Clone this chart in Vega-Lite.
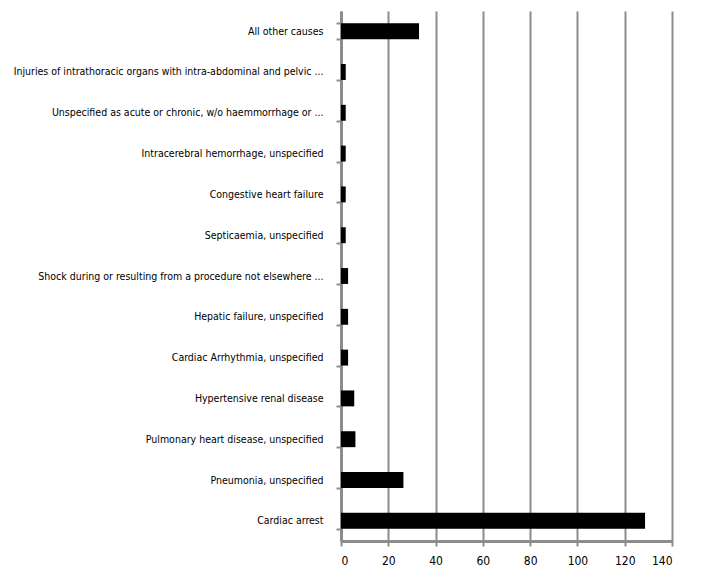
{
  "$schema": "https://vega.github.io/schema/vega-lite/v6.json",
  "autosize": {"type": "none"},
  "padding": {"left": 341, "top": 11, "right": 33, "bottom": 41},
  "width": 331,
  "height": 530,
  "background": "white",
  "config": {
    "view": {"stroke": null},
    "font": "DejaVu Sans Condensed, Liberation Sans Narrow, Roboto, sans-serif"
  },
  "data": {
    "values": [
      {"cause": "All other causes", "count": 33},
      {"cause": "Injuries of intrathoracic  organs  with intra-abdominal  and pelvic ...", "count": 2},
      {"cause": "Unspecified as acute or chronic, w/o haemmorrhage   or ...", "count": 2},
      {"cause": "Intracerebral  hemorrhage,   unspecified", "count": 2},
      {"cause": "Congestive heart  failure", "count": 2},
      {"cause": "Septicaemia, unspecified", "count": 2},
      {"cause": "Shock during or resulting from a procedure  not elsewhere ...", "count": 3},
      {"cause": "Hepatic failure, unspecified", "count": 3},
      {"cause": "Cardiac Arrhythmia,  unspecified", "count": 3},
      {"cause": "Hypertensive renal disease", "count": 5.6},
      {"cause": "Pulmonary heart disease, unspecified", "count": 6.1},
      {"cause": "Pneumonia, unspecified", "count": 26.4},
      {"cause": "Cardiac arrest", "count": 128.6}
    ]
  },
  "mark": {"type": "bar", "color": "black"},
  "encoding": {
    "y": {
      "field": "cause",
      "type": "nominal",
      "sort": null,
      "scale": {"paddingInner": 0.61, "paddingOuter": 0.3},
      "axis": {
        "title": null,
        "domainColor": "#8c8c8c",
        "domainWidth": 3,
        "tickColor": "#8c8c8c",
        "tickWidth": 2,
        "tickSize": 5,
        "tickBand": "extent",
        "labelPadding": 13,
        "labelLimit": 0,
        "labelFontSize": 10.5,
        "labelColor": "black",
        "labelFont": "DejaVu Sans Condensed, Liberation Sans Narrow, Roboto, sans-serif"
      }
    },
    "x": {
      "field": "count",
      "type": "quantitative",
      "scale": {"domain": [0, 140], "nice": false},
      "axis": {
        "title": null,
        "values": [0, 20, 40, 60, 80, 100, 120, 140],
        "grid": true,
        "gridColor": "#8c8c8c",
        "gridWidth": 2,
        "domainColor": "#8c8c8c",
        "domainWidth": 3,
        "tickColor": "#8c8c8c",
        "tickWidth": 2,
        "tickSize": 5,
        "labelPadding": 9,
        "labelFontSize": 12,
        "labelColor": "black",
        "labelFont": "DejaVu Sans Condensed, Liberation Sans Narrow, Roboto, sans-serif"
      }
    }
  }
}
